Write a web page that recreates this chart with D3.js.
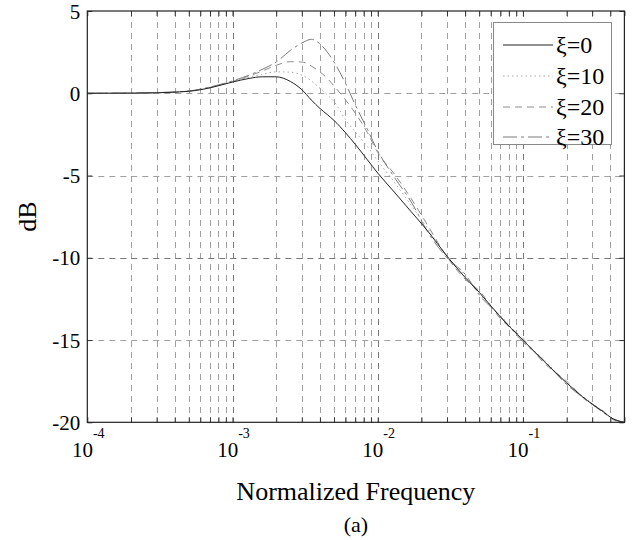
<!DOCTYPE html>
<html>
<head>
<meta charset="utf-8">
<script src="https://cdn.jsdelivr.net/npm/d3@7"></script>
<style>
  html, body { margin: 0; padding: 0; background: #fff; }
  svg { display: block; }
  text { font-family: "Liberation Serif", "Times New Roman", serif; fill: #000; }
</style>
</head>
<body>
<svg id="chart" width="632" height="540"></svg>
<script>
// ---- data ----
const freq = [1e-4, 2e-4, 3e-4, 5e-4, 7e-4, 1e-3, 1.3e-3, 1.6e-3, 2e-3, 2.5e-3, 3e-3, 3.5e-3, 4e-3, 4.5e-3, 5e-3, 6e-3, 7e-3, 8.5e-3, 1e-2, 1.3e-2, 1.7e-2, 2.2e-2, 3e-2, 4e-2, 5e-2, 7e-2, 0.1, 0.14, 0.2, 0.28, 0.35, 0.42, 0.5];
const xi0  = [0, 0.01, 0.03, 0.12, 0.33, 0.68, 0.9, 1.0, 1.0, 0.72, 0.22, -0.42, -0.92, -1.3, -1.65, -2.4, -3.1, -4.05, -4.85, -6.0, -7.2, -8.35, -9.9, -11.2, -12.1, -13.6, -15.0, -16.3, -17.6, -18.7, -19.3, -19.8, -20.0];
const xi10 = [0, 0.01, 0.03, 0.12, 0.34, 0.7, 0.98, 1.15, 1.3, 1.28, 1.1, 0.75, 0.3, -0.1, -0.5, -1.6, -2.35, -3.25, -4.1, -5.4, -6.8, -8.2, -9.9, -11.1, -12.2, -13.5, -15.05, -16.2, -17.65, -18.65, -19.3, -19.8, -20.0];
const xi20 = [0, 0.01, 0.035, 0.13, 0.36, 0.72, 1.05, 1.35, 1.7, 1.92, 1.9, 1.65, 1.3, 0.9, 0.45, -0.4, -1.2, -2.4, -3.6, -4.9, -6.4, -8.0, -9.95, -11.3, -12.0, -13.7, -14.9, -16.4, -17.5, -18.75, -19.25, -19.85, -20.0];
const xi30 = [0, 0.01, 0.04, 0.14, 0.38, 0.75, 1.1, 1.45, 1.9, 2.6, 3.05, 3.28, 3.0, 2.5, 1.9, 0.6, -0.7, -2.2, -3.5, -5.1, -6.6, -8.4, -10.0, -11.0, -12.25, -13.55, -15.1, -16.25, -17.7, -18.7, -19.35, -19.8, -20.0];
const seriesNames = ["ξ=0", "ξ=10", "ξ=20", "ξ=30"];
const xMajorTicks = [1e-4, 1e-3, 1e-2, 1e-1];
const xTickExponents = ["-4", "-3", "-2", "-1"];
const yTicks = [5, 0, -5, -10, -15, -20];
const yGrid = [0, -5, -10, -15];
const xLabel = "Normalized Frequency";
const yLabel = "dB";
const caption = "(a)";

// ---- layout ----
const L = 87.3, R = 624.4, T = 11, B = 422.3;
const svg = d3.select("#chart");
const x = d3.scaleLog().domain([1e-4, 0.5]).range([L, R]);
const y = d3.scaleLinear().domain([-20, 5]).range([B, T]);

// all log ticks (1..9 x 10^k) inside domain
const allX = [];
for (let e = -4; e <= -1; e++) for (let k = 1; k <= 9; k++) {
  const v = k * Math.pow(10, e);
  if (v >= 1e-4 && v <= 0.5 + 1e-12) allX.push(v);
}

// grid
const grid = svg.append("g");
grid.selectAll("line.vg").data(allX.filter(v => v > 1e-4 && v < 0.5)).join("line")
  .attr("x1", d => Math.round(x(d)) + 0.5).attr("x2", d => Math.round(x(d)) + 0.5)
  .attr("y1", T).attr("y2", B)
  .attr("stroke", d => xMajorTicks.includes(d) ? "#777" : "#a0a0a0")
  .attr("stroke-width", 1).attr("stroke-dasharray", "6,5");
grid.selectAll("line.hg").data(yGrid).join("line")
  .attr("x1", L).attr("x2", R)
  .attr("y1", d => Math.round(y(d)) + 0.5).attr("y2", d => Math.round(y(d)) + 0.5)
  .attr("stroke", d => d === -10 ? "#777" : "#a0a0a0")
  .attr("stroke-width", 1).attr("stroke-dasharray", "6,5");

// curves
const line = d3.line().x(d => x(d[0])).y(d => y(d[1])).curve(d3.curveMonotoneX);
const styles = [
  { data: xi0,  color: "#222", dash: null,        w: 1.0 },
  { data: xi10, color: "#a8a8a8", dash: "1.5,3",  w: 1.0 },
  { data: xi20, color: "#8c8c8c", dash: "7,5",    w: 1.0 },
  { data: xi30, color: "#7a7a7a", dash: "14,4,3,4",  w: 1.0 }
];
const curveG = svg.append("g");
[3, 2, 1, 0].forEach(i => {
  const s = styles[i];
  curveG.append("path")
    .datum(freq.map((f, j) => [f, s.data[j]]))
    .attr("d", line)
    .attr("fill", "none")
    .attr("stroke", s.color)
    .attr("stroke-width", s.w)
    .attr("stroke-dasharray", s.dash);
});

// axes (ticks inward)
const axB = svg.append("g").attr("transform", `translate(0,${B})`)
  .call(d3.axisBottom(x).tickValues(allX).tickSize(-5).tickSizeOuter(0).tickFormat(""));
const axT = svg.append("g").attr("transform", `translate(0,${T})`)
  .call(d3.axisTop(x).tickValues(allX).tickSize(-5).tickSizeOuter(0).tickFormat(""));
const axL = svg.append("g").attr("transform", `translate(${L},0)`)
  .call(d3.axisLeft(y).tickValues(yTicks).tickSize(-5).tickSizeOuter(0).tickPadding(7).tickFormat(d => String(d)));
const axR = svg.append("g").attr("transform", `translate(${R},0)`)
  .call(d3.axisRight(y).tickValues(yTicks).tickSize(-5).tickSizeOuter(0).tickFormat(""));
[axB, axT, axL, axR].forEach(a => {
  a.select(".domain").remove();
  a.selectAll(".tick line").attr("stroke", "#333");
});
axL.selectAll(".tick text")
  .style("font-family", "'Liberation Serif', serif")
  .style("font-size", "21px").attr("fill", "#000").attr("dy", "0.34em");

// box
svg.append("rect").attr("x", L).attr("y", T).attr("width", R - L).attr("height", B - T)
  .attr("fill", "none").attr("stroke", "#222").attr("stroke-width", 1.2);

// x tick labels with superscript
const xl = svg.append("g").selectAll("text").data(xMajorTicks).join("text")
  .attr("x", d => x(d) + 1).attr("y", 457)
  .attr("text-anchor", "middle")
  .style("font-size", "21px");
xl.append("tspan").text("10");
xl.append("tspan").attr("dy", -19).style("font-size", "14px").text((d, i) => xTickExponents[i]);

// axis titles
svg.append("text").attr("x", (L + R) / 2).attr("y", 500).attr("text-anchor", "middle")
  .style("font-size", "26px").text(xLabel);
svg.append("text").attr("transform", `translate(36,${(T + B) / 2}) rotate(-90)`)
  .attr("text-anchor", "middle").style("font-size", "26px").text(yLabel);
svg.append("text").attr("x", (L + R) / 2).attr("y", 532).attr("text-anchor", "middle")
  .style("font-size", "22px").text(caption);

// legend
const lg = svg.append("g");
lg.append("rect").attr("x", 493.5).attr("y", 22.5).attr("width", 118).attr("height", 122)
  .attr("fill", "#fff").attr("stroke", "#888").attr("stroke-width", 1);
const rowY = [45, 76, 107, 137];
seriesNames.forEach((name, i) => {
  const s = styles[i];
  lg.append("line").attr("x1", 503).attr("x2", 553).attr("y1", rowY[i]).attr("y2", rowY[i])
    .attr("stroke", s.color).attr("stroke-width", s.w).attr("stroke-dasharray", s.dash);
  lg.append("text").attr("x", 556).attr("y", rowY[i] + 8).style("font-size", "24px").text(name);
});
</script>
</body>
</html>
